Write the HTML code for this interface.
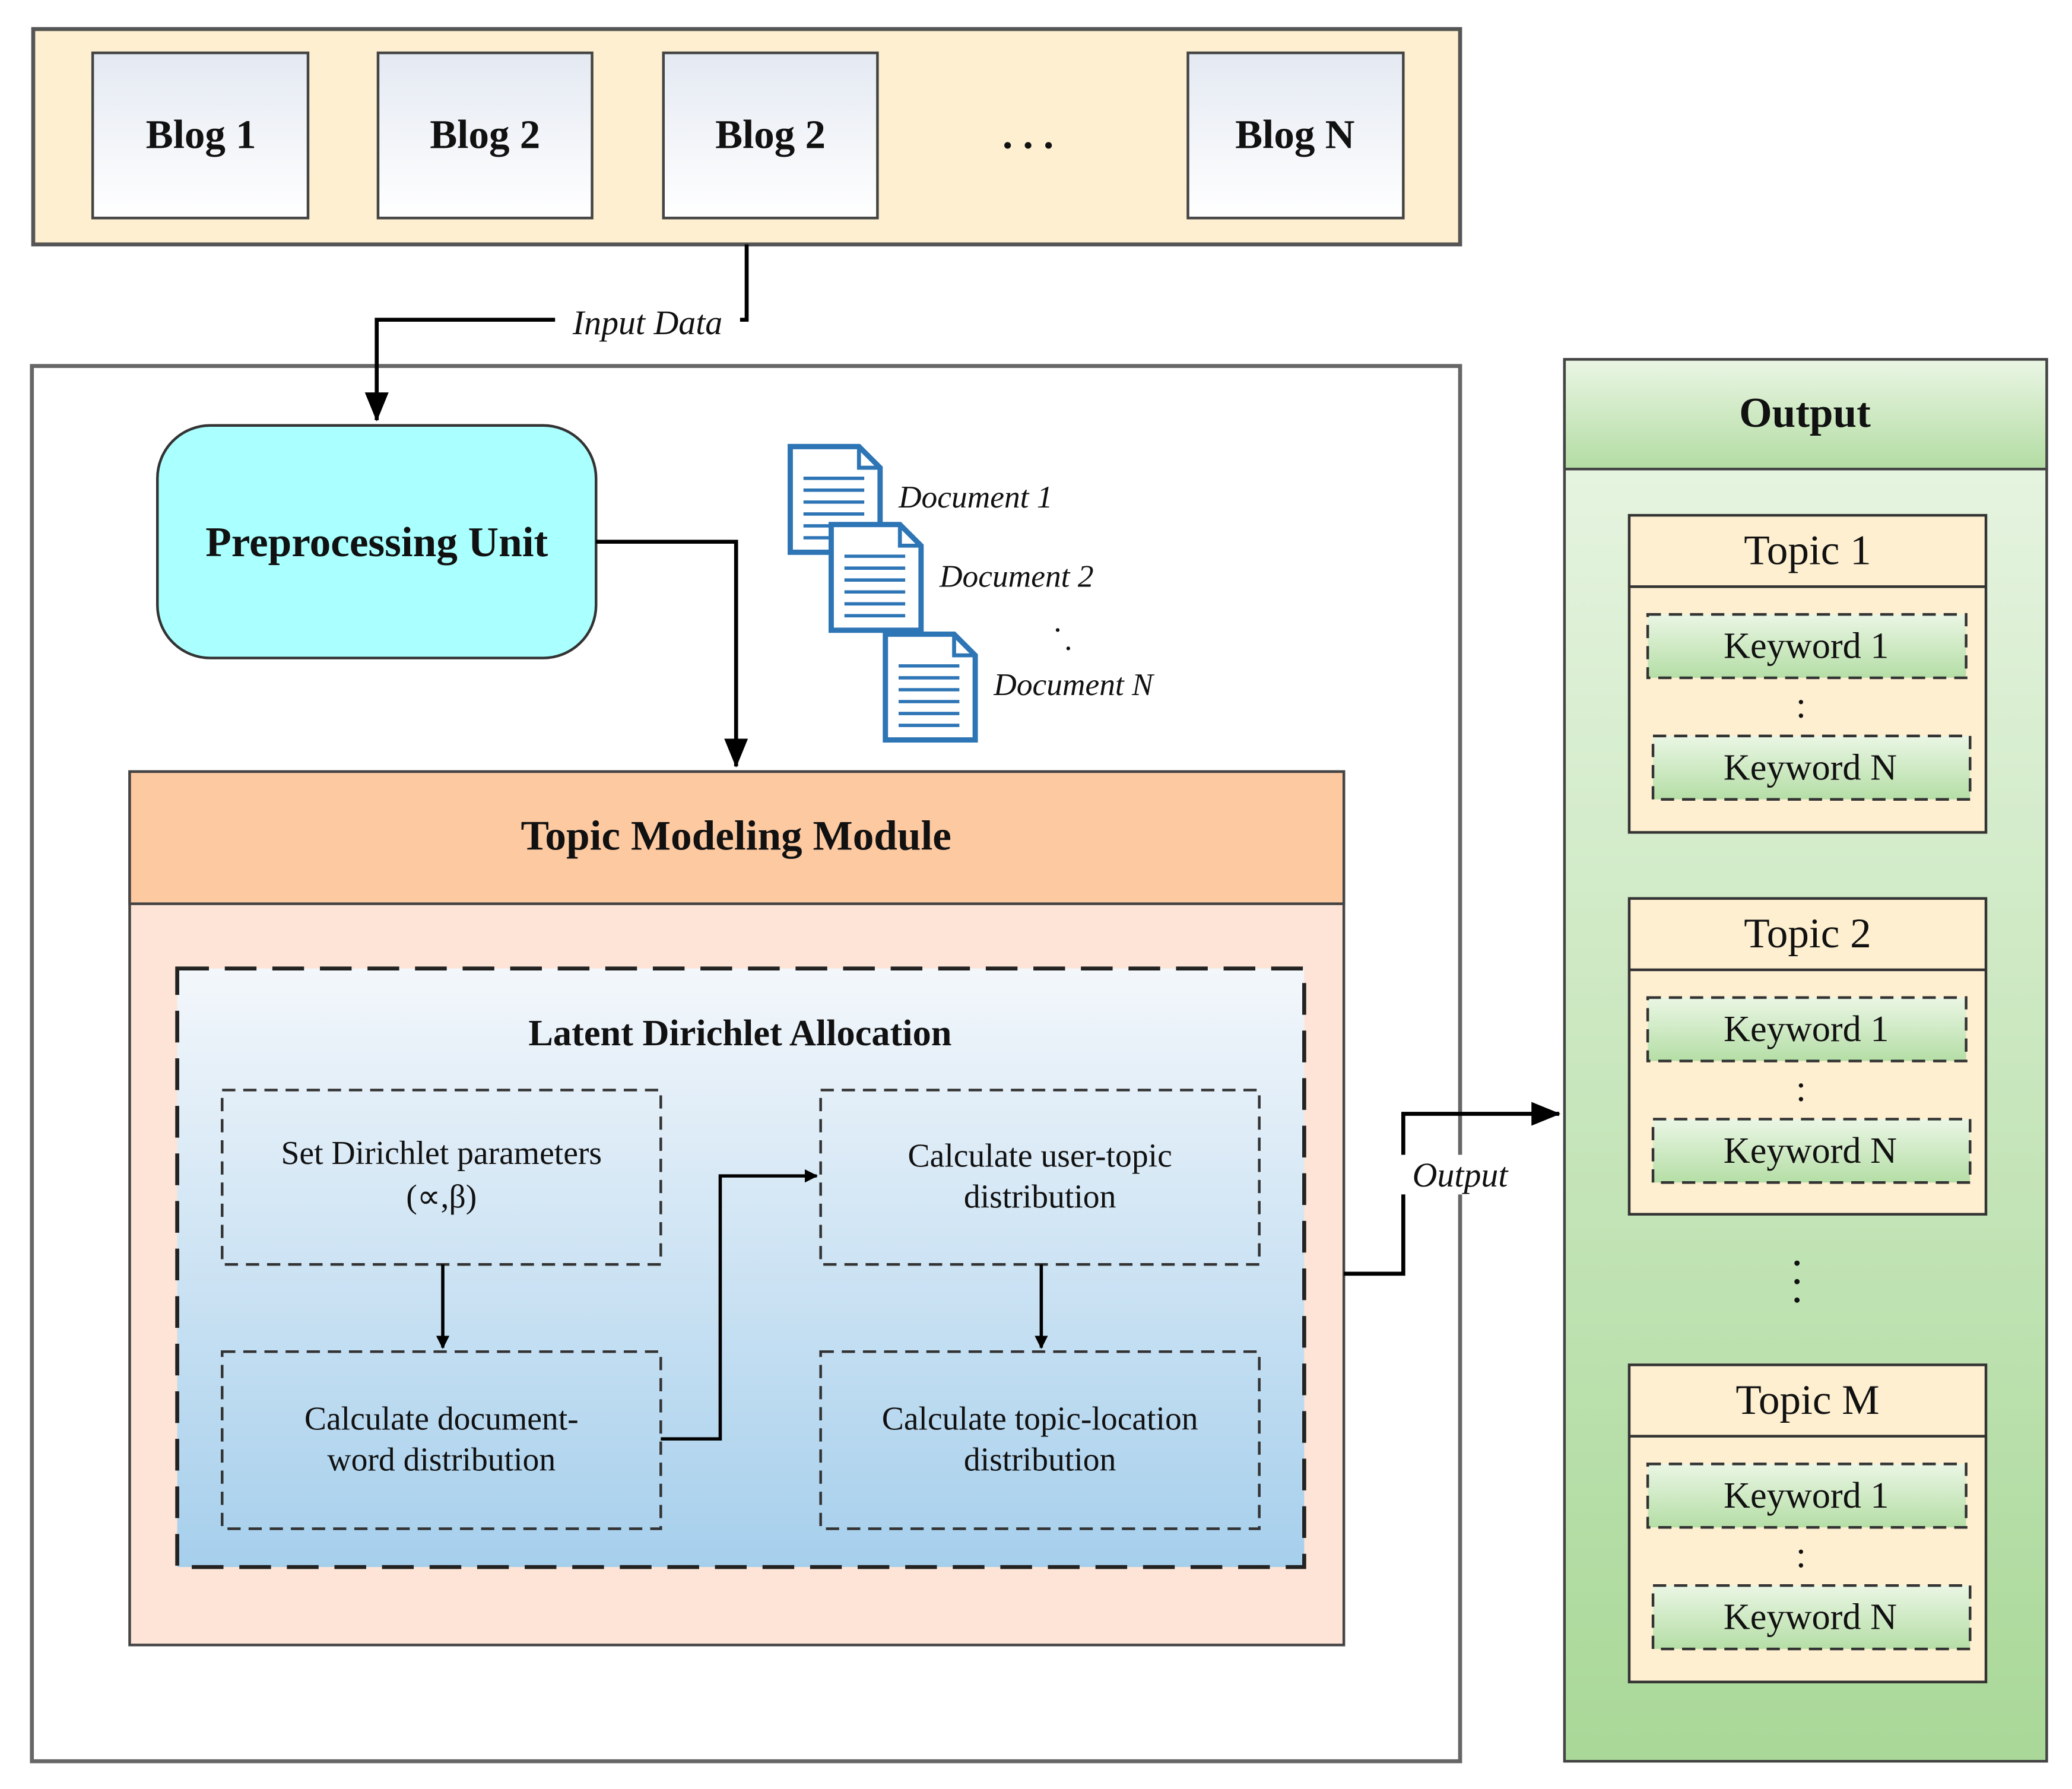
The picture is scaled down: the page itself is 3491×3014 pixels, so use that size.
<!DOCTYPE html>
<html><head><meta charset="utf-8"><style>
html,body{margin:0;padding:0;background:#fff;}
svg{display:block;}
text{font-family:"Liberation Serif",serif;fill:#111;}
</style></head><body>
<svg width="3491" height="3014" viewBox="0 0 1568 1354" xmlns="http://www.w3.org/2000/svg">
<defs>
<linearGradient id="blog" x1="0" y1="0" x2="0" y2="1"><stop offset="0" stop-color="#e4e9f2"/><stop offset="1" stop-color="#ffffff"/></linearGradient>
<linearGradient id="lda" x1="0" y1="0" x2="0" y2="1"><stop offset="0" stop-color="#f3f7fb"/><stop offset="1" stop-color="#a6cfec"/></linearGradient>
<linearGradient id="outh" x1="0" y1="0" x2="0" y2="1"><stop offset="0" stop-color="#eaf6e4"/><stop offset="1" stop-color="#b3dca3"/></linearGradient>
<linearGradient id="outb" x1="0" y1="0" x2="0" y2="1"><stop offset="0" stop-color="#eaf6e5"/><stop offset="1" stop-color="#a9d898"/></linearGradient>
<linearGradient id="kw" x1="0" y1="0" x2="0" y2="1"><stop offset="0" stop-color="#eaf6e4"/><stop offset="1" stop-color="#b5dea6"/></linearGradient>
<marker id="ar" markerWidth="10" markerHeight="10" refX="9" refY="5" orient="auto" markerUnits="userSpaceOnUse"><path d="M0,0 L10,5 L0,10 z" fill="#000"/></marker>
<marker id="arb" markerWidth="22" markerHeight="18" refX="21" refY="9" orient="auto" markerUnits="userSpaceOnUse"><path d="M0,0 L22,9 L0,18 z" fill="#000"/></marker>
<g id="doc"><path d="M0,0 H52 L68,16 V80 H0 Z" fill="#fff" stroke="#2e75b6" stroke-width="4"/><path d="M52,0 V16 H68" fill="none" stroke="#2e75b6" stroke-width="3"/><g stroke="#2e75b6" stroke-width="2.5"><line x1="10" y1="24" x2="56" y2="24"/><line x1="10" y1="33" x2="56" y2="33"/><line x1="10" y1="42" x2="56" y2="42"/><line x1="10" y1="51" x2="56" y2="51"/><line x1="10" y1="60" x2="56" y2="60"/><line x1="10" y1="69" x2="56" y2="69"/></g></g>
</defs>

<rect x="25" y="22" width="1080" height="163" fill="#fdefcf" stroke="#555" stroke-width="3"/>
<g stroke="#444" stroke-width="2" fill="url(#blog)">
<rect x="70" y="40" width="163" height="125"/><rect x="286" y="40" width="162" height="125"/><rect x="502" y="40" width="162" height="125"/><rect x="899" y="40" width="163" height="125"/>
</g>
<g font-size="31" font-weight="bold" text-anchor="middle">
<text x="152" y="112">Blog 1</text><text x="367" y="112">Blog 2</text><text x="583" y="112">Blog 2</text><text x="980" y="112">Blog N</text>
<text x="778" y="112">. . .</text>
</g>

<rect x="24" y="277" width="1081" height="1056" fill="#fff" stroke="#666" stroke-width="3"/>

<polyline points="565,185 565,242 285,242 285,318" fill="none" stroke="#000" stroke-width="3" marker-end="url(#arb)"/>
<rect x="420" y="228" width="140" height="30" fill="#fff"/>
<text x="490" y="253" font-size="26" font-style="italic" text-anchor="middle">Input Data</text>

<rect x="119" y="322" width="332" height="176" rx="40" fill="#aaffff" stroke="#333" stroke-width="2"/>
<text x="285" y="421" font-size="32" font-weight="bold" text-anchor="middle">Preprocessing Unit</text>
<polyline points="451,410 557,410 557,580" fill="none" stroke="#000" stroke-width="3" marker-end="url(#arb)"/>

<use href="#doc" x="598" y="338"/><use href="#doc" x="629" y="397"/><use href="#doc" x="670" y="480"/>
<g font-size="24" font-style="italic">
<text x="680" y="384">Document 1</text><text x="711" y="444">Document 2</text><text x="752" y="526">Document N</text>
<text x="798" y="478">.</text><text x="806" y="492">.</text>
</g>

<rect x="98" y="584" width="919" height="661" fill="#fde4d6" stroke="#444" stroke-width="2"/>
<rect x="98" y="584" width="919" height="100" fill="#fdc9a1" stroke="#444" stroke-width="2"/>
<text x="557" y="643" font-size="32" font-weight="bold" text-anchor="middle">Topic Modeling Module</text>

<rect x="134" y="733" width="853" height="453" fill="url(#lda)" stroke="#222" stroke-width="3" stroke-dasharray="24,12"/>
<text x="560" y="791" font-size="28" font-weight="bold" text-anchor="middle">Latent Dirichlet Allocation</text>
<g fill="none" stroke="#333" stroke-width="2" stroke-dasharray="10,6">
<rect x="168" y="825" width="332" height="132"/><rect x="621" y="825" width="332" height="132"/>
<rect x="168" y="1023" width="332" height="134"/><rect x="621" y="1023" width="332" height="134"/>
</g>
<g font-size="25" text-anchor="middle">
<text x="334" y="881">Set Dirichlet parameters</text><text x="334" y="914">(∝,β)</text>
<text x="787" y="883">Calculate user-topic</text><text x="787" y="914">distribution</text>
<text x="334" y="1082">Calculate document-</text><text x="334" y="1113">word distribution</text>
<text x="787" y="1082">Calculate topic-location</text><text x="787" y="1113">distribution</text>
</g>
<g fill="none" stroke="#000" stroke-width="2.5">
<line x1="335" y1="957" x2="335" y2="1020" marker-end="url(#ar)"/>
<line x1="788" y1="957" x2="788" y2="1020" marker-end="url(#ar)"/>
<polyline points="500,1089 545,1089 545,890 618,890" marker-end="url(#ar)"/>
</g>

<polyline points="1017,964 1062,964 1062,843 1180,843" fill="none" stroke="#000" stroke-width="3" marker-end="url(#arb)"/>
<rect x="1058" y="874" width="94" height="30" fill="#fff"/>
<text x="1105" y="898" font-size="26" font-style="italic" text-anchor="middle">Output</text>

<rect x="1184" y="272" width="365" height="1061" fill="url(#outb)" stroke="#444" stroke-width="2"/>
<rect x="1184" y="272" width="365" height="83" fill="url(#outh)" stroke="#444" stroke-width="2"/>
<text x="1366" y="323" font-size="32" font-weight="bold" text-anchor="middle">Output</text>

<rect x="1233" y="390" width="270" height="240" fill="#fdefcf" stroke="#333" stroke-width="2"/>
<line x1="1233" y1="444" x2="1503" y2="444" stroke="#333" stroke-width="2"/>
<rect x="1233" y="680" width="270" height="239" fill="#fdefcf" stroke="#333" stroke-width="2"/>
<line x1="1233" y1="734" x2="1503" y2="734" stroke="#333" stroke-width="2"/>
<rect x="1233" y="1033" width="270" height="240" fill="#fdefcf" stroke="#333" stroke-width="2"/>
<line x1="1233" y1="1087" x2="1503" y2="1087" stroke="#333" stroke-width="2"/>
<g font-size="32" text-anchor="middle">
<text x="1368" y="427">Topic 1</text><text x="1368" y="717">Topic 2</text><text x="1368" y="1070">Topic M</text>
</g>
<g fill="url(#kw)" stroke="#333" stroke-width="2" stroke-dasharray="10,6">
<rect x="1247" y="465" width="241" height="48"/><rect x="1251" y="557" width="240" height="48"/>
<rect x="1247" y="755" width="241" height="48"/><rect x="1251" y="847" width="240" height="48"/>
<rect x="1247" y="1108" width="241" height="48"/><rect x="1251" y="1200" width="240" height="48"/>
</g>
<g font-size="28" text-anchor="middle">
<text x="1367" y="498">Keyword 1</text><text x="1370" y="590">Keyword N</text>
<text x="1367" y="788">Keyword 1</text><text x="1370" y="880">Keyword N</text>
<text x="1367" y="1141">Keyword 1</text><text x="1370" y="1233">Keyword N</text>
<text x="1363" y="543">:</text><text x="1363" y="833">:</text><text x="1363" y="1186">:</text>
</g>
<g fill="#111"><circle cx="1360" cy="956" r="2"/><circle cx="1360" cy="970" r="2"/><circle cx="1360" cy="984" r="2"/></g>
</svg>
</body></html>
